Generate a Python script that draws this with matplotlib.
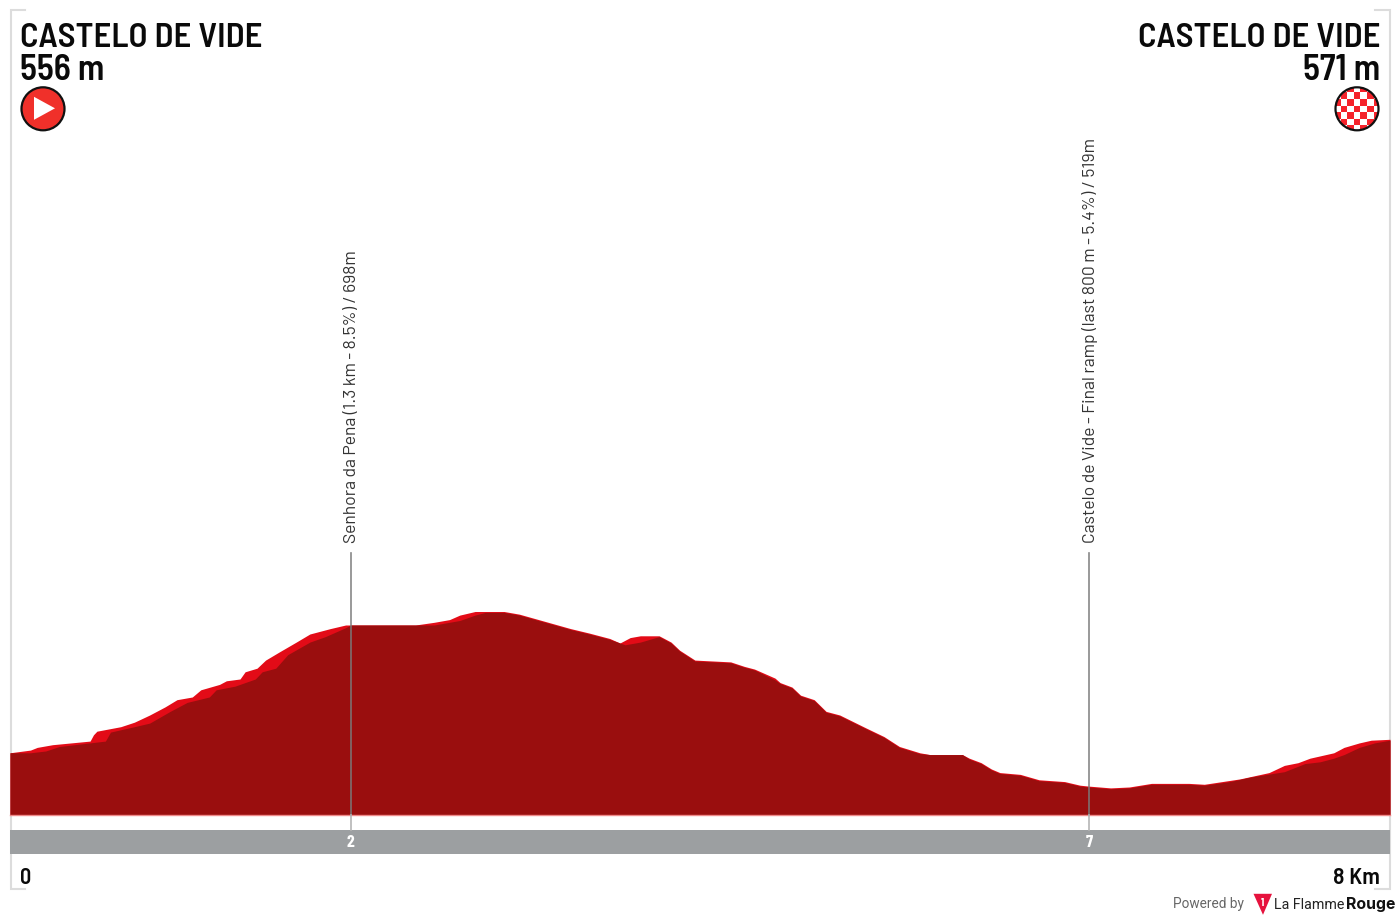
import matplotlib
matplotlib.use("Agg")
import matplotlib.pyplot as plt
from matplotlib.patches import Circle, Polygon, Rectangle
import logging
logging.getLogger("matplotlib.font_manager").setLevel(logging.ERROR)

HEAD = ["Barlow Semi Condensed", "Roboto", "Liberation Sans", "DejaVu Sans"]
TICK = ["Barlow Condensed", "Roboto", "Liberation Sans", "DejaVu Sans"]
NOTE = ["Barlow", "Roboto", "Liberation Sans", "DejaVu Sans"]
LOGO = ["Roboto", "Inter", "DejaVu Sans"]
LOGO_B = ["Inter", "Roboto", "DejaVu Sans"]

top_km = [0, .12, .16, .25, .47, .49, .51, .65, .73, .82, .91, .98, 1.07, 1.12, 1.23, 1.27, 1.35, 1.38, 1.45, 1.50,
          1.58, 1.68, 1.76, 1.88, 1.97, 2.00, 2.38, 2.49, 2.58, 2.64, 2.73, 2.90, 2.99, 3.14, 3.29, 3.40, 3.52, 3.58,
          3.64, 3.70, 3.81, 3.88, 3.93, 4.02, 4.23, 4.31, 4.37, 4.49, 4.52, 4.59, 4.64, 4.72, 4.79, 4.87, 5.02, 5.13,
          5.22, 5.34, 5.40, 5.59, 5.63, 5.70, 5.76, 5.81, 5.93, 6.04, 6.19, 6.28, 6.33, 6.46, 6.57, 6.70, 6.92, 7.01,
          7.22, 7.39, 7.48, 7.56, 7.63, 7.77, 7.83, 7.92, 7.99, 8.10]
top_elev = [556, 559, 562, 565, 569, 576, 580, 585, 590, 598, 607, 615, 618, 626, 632, 636, 638, 646, 650, 659,
            668, 679, 688, 694, 698, 698, 698, 701, 704, 709, 713, 713, 710, 702, 694, 689, 683, 678,
            684, 686, 686, 679, 670, 659, 657, 652, 649, 639, 634, 629, 620, 615, 602, 598, 584, 574,
            563, 556, 554, 554, 550, 545, 538, 534, 532, 526, 524, 520, 519, 517, 518, 522, 522, 521,
            527, 534, 542, 545, 550, 556, 562, 567, 570, 571]

base_km = [0, .12, .21, .29, .56, .59, .73, .82, .94, 1.04, 1.17, 1.21, 1.32, 1.44, 1.48, 1.56, 1.63, 1.76, 1.85, 1.97,
           2.00, 2.38, 2.49, 2.58, 2.64, 2.73, 2.79, 2.90, 2.99, 3.14, 3.29, 3.40, 3.52, 3.61, 3.70, 3.79, 3.81, 3.88,
           3.93, 4.02, 4.23, 4.31, 4.37, 4.49, 4.52, 4.59, 4.64, 4.72, 4.79, 4.87, 5.02, 5.13, 5.22, 5.34, 5.40, 5.59,
           5.63, 5.70, 5.76, 5.81, 5.93, 6.04, 6.19, 6.28, 6.33, 6.46, 6.57, 6.70, 6.92, 7.01, 7.16, 7.28, 7.48, 7.60,
           7.69, 7.77, 7.83, 7.92, 8.01, 8.10]
base_elev = [556, 556, 558, 563, 569, 579, 585, 589, 602, 612, 618, 626, 630, 638, 646, 650, 665, 679, 685, 695,
             698, 698, 698, 701, 703, 709, 712, 712, 709, 701, 693, 688, 682, 676, 679, 684, 685, 678,
             669, 658, 656, 651, 648, 637, 633, 628, 619, 614, 601, 597, 583, 573, 562, 555, 554, 554,
             549, 544, 537, 533, 531, 525, 523, 519, 518, 516, 517, 521, 521, 520, 524, 529, 535, 544,
             546, 550, 554, 562, 567, 570]

way_km = [2.00, 6.335]
way_tick = ["2", "7"]
way_labels = ["Senhora da Pena (1.3 km - 8.5%) / 698m",
              "Castelo de Vide - Final ramp (last 800 m - 5.4%) / 519m"]
start_name, start_alt = "CASTELO DE VIDE", "556 m"
finish_name, finish_alt = "CASTELO DE VIDE", "571 m"
dist_start, dist_end = "0", "8 Km"

W, H = 1400, 920
SHIFT = 0.8
fig = plt.figure(figsize=(14, 9.2), dpi=100, facecolor="white")

def pixel_axes(z):
    a = fig.add_axes([0, 0, 1, 1], facecolor="none", zorder=z)
    a.set_xlim(0, W)
    a.set_ylim(H - SHIFT, -SHIFT)
    a.axis("off")
    return a

bg = pixel_axes(0)
BR = "#dcdcdc"
for xs, ys in [([25, 10.5, 10.5, 25], [10, 10, 889.5, 889.5]), ([1375, 1390, 1390, 1375], [10, 10, 889.5, 889.5])]:
    bg.plot(xs, ys, color=BR, lw=1.5, solid_joinstyle="miter")

ax = fig.add_axes([10 / W, (H - 815 - SHIFT) / H, 1380 / W, 815 / H], zorder=1)
ax.set_xlim(0, 8.10)
ax.set_ylim(487.1, 1392.7)
ax.axis("off")
ax.fill_between(top_km, top_elev, 487.1, color="#e30b17", lw=0, zorder=2)
ax.fill_between(base_km, base_elev, 487.1, color="#9a0e0e", lw=0, zorder=3)
ax.axhline(487.1, color="#f08a8a", lw=1.0, zorder=4, clip_on=False)

ov = pixel_axes(2)

def km2px(km):
    return 10 + km / 8.10 * 1380

ov.add_patch(Rectangle((10, 830), 1380, 24, fc="#9c9fa1", ec="none", zorder=2))

for km, tick, lab in zip(way_km, way_tick, way_labels):
    px = km2px(km)
    ov.plot([px, px], [553, 815], color="#7a7a7a", lw=1.2, alpha=0.9, zorder=6)
    ov.plot([px, px], [815, 830], color="#b5b5b5", lw=1.2, zorder=6)
    ov.text(px, 842, tick, color="white", ha="center", va="center", fontsize=12.5,
            fontweight="bold", family=TICK, zorder=7)
    ov.text(px + 0.5, 542, lab, rotation=90, ha="center", va="bottom", fontsize=12.6,
            fontweight="normal", color="#333333", family=NOTE, zorder=7)

kw = dict(fontweight="semibold", family=HEAD, color="#0a0a0a", va="baseline")
ov.text(20, 46, start_name, fontsize=25, ha="left", **kw)
ov.text(20, 79, start_alt, fontsize=25.5, ha="left", **kw)
ov.text(1380, 46, finish_name, fontsize=25, ha="right", **kw)
ov.text(1380, 79, finish_alt, fontsize=25.5, ha="right", **kw)
ov.text(20, 883.5, dist_start, fontsize=16, ha="left", **kw)
ov.text(1380, 883.5, dist_end, fontsize=17, ha="right", **kw)

ov.add_patch(Circle((43, 109), 21.5, fc="#f0302a", ec="#111111", lw=1.6, zorder=5))
ov.add_patch(Polygon([[34, 97], [34, 120], [55, 108.5]], fc="white", ec="none", zorder=6))

cx, cy, r = 1357, 109, 21.5
disc = Circle((cx, cy), r, fc="white", ec="none", zorder=5)
ov.add_patch(disc)
pitch = 6.6
for i in range(-4, 5):
    for j in range(-4, 5):
        if (i + j) % 2 == 0:
            sq = Rectangle((cx + (i - 0.5) * pitch, cy + (j - 0.5) * pitch), pitch, pitch, fc="#f5222a", ec="none", zorder=6)
            ov.add_patch(sq)
            sq.set_clip_path(disc)
ov.add_patch(Circle((cx, cy), r, fc="none", ec="#111111", lw=1.6, zorder=7))

ov.text(1244, 907, "Powered by", fontsize=9.8, color="#666666", family=LOGO, ha="right", va="baseline")
ov.add_patch(Polygon([[1253.5, 894], [1272, 894], [1263, 915]], fc="#e6123d", ec="none"))
ov.text(1262.5, 902, "1", fontsize=8, color="white", fontweight="bold", family=TICK, ha="center", va="center")
ov.text(1274, 908, "La Flamme", fontsize=10.3, color="#222222", family=LOGO, ha="left", va="baseline")
ov.text(1346, 908, "Rouge", fontsize=11.4, color="#111111", fontweight="bold", family=LOGO_B, ha="left", va="baseline")

fig.savefig("out.png", dpi=100, facecolor="white")
